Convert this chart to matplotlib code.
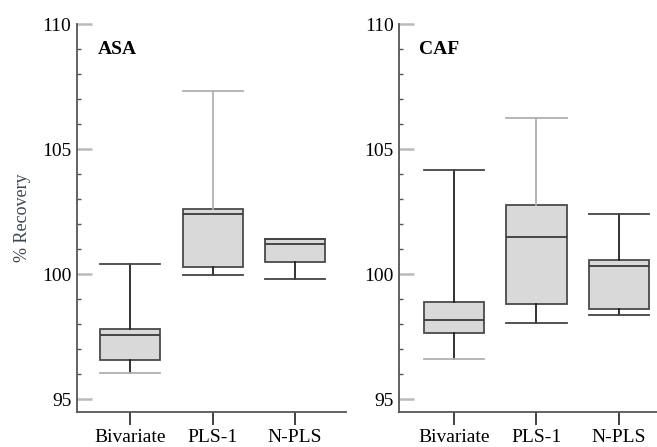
import matplotlib.pyplot as plt
from matplotlib.ticker import MultipleLocator

plt.rcParams['font.family'] = ['Liberation Serif', 'DejaVu Serif']

methods = ["Bivariate", "PLS-1", "N-PLS"]

# ASA panel
asa_whislo = [96.05, 99.99, 99.83]
asa_q1 = [96.57, 100.31, 100.49]
asa_med = [97.57, 102.41, 101.21]
asa_q3 = [97.83, 102.62, 101.40]
asa_whishi = [100.41, 107.32, 101.42]

# CAF panel
caf_whislo = [96.62, 98.07, 98.39]
caf_q1 = [97.65, 98.82, 98.60]
caf_med = [98.16, 101.49, 100.32]
caf_q3 = [98.91, 102.77, 100.59]
caf_whishi = [104.16, 106.26, 102.39]

light = "#b0b0b0"


def make_stats(lo, q1, med, q3, hi):
    return [dict(whislo=a, q1=b, med=c, q3=d, whishi=e, label=m)
            for a, b, c, d, e, m in zip(lo, q1, med, q3, hi, methods)]


fig = plt.figure(figsize=(6.57, 4.47), dpi=100)
ax1 = fig.add_axes([0.1172, 0.0783, 0.4094, 0.868])
ax2 = fig.add_axes([0.6078, 0.0783, 0.3922, 0.868])

panels = [
    (ax1, make_stats(asa_whislo, asa_q1, asa_med, asa_q3, asa_whishi), "ASA", (0.35, 3.62)),
    (ax2, make_stats(caf_whislo, caf_q1, caf_med, caf_q3, caf_whishi), "CAF", (0.34, 3.46)),
]

for ax, stats, name, xlim in panels:
    art = ax.bxp(stats, positions=[1, 2, 3], widths=0.73, patch_artist=True,
                 showfliers=False,
                 boxprops=dict(facecolor="#d9d9d9", edgecolor="#4a4a4a", linewidth=1.3),
                 medianprops=dict(color="#3a3a3a", linewidth=1.3),
                 whiskerprops=dict(color="#222222", linewidth=1.3),
                 capprops=dict(color="#444444", linewidth=1.3),
                 capwidths=0.73)
    # lighter rendered lines in the original
    art["caps"][0].set_color(light)
    art["whiskers"][3].set_color(light)
    art["caps"][3].set_color(light)

    ax.set_xlim(*xlim)
    ax.set_ylim(94.5, 110)
    ax.spines["top"].set_visible(False)
    ax.spines["right"].set_visible(False)
    ax.spines["left"].set_bounds(94.5, 110)
    for s in ("left", "bottom"):
        ax.spines[s].set_color("#555555")
        ax.spines[s].set_linewidth(1.3)

    ax.yaxis.set_major_locator(MultipleLocator(5))
    ax.yaxis.set_minor_locator(MultipleLocator(1))
    ax.tick_params(axis="y", which="major", direction="in", length=11, width=1.8,
                   color="#bbbbbb", labelsize=14, pad=4)
    ax.tick_params(axis="y", which="minor", direction="in", length=3, width=1,
                   color="#555555")
    ax.tick_params(axis="x", direction="out", length=9, width=1.3, color="#333333",
                   labelsize=14, pad=3)
    ax.xaxis.get_ticklines()[2].set_color(light)
    ax.set_facecolor("none")
    ax.text(0.078, 0.933, name, transform=ax.transAxes, fontsize=14,
            fontweight="bold", va="center", ha="left")

ax1.set_ylabel("% Recovery", fontsize=13, color="#3a4656", labelpad=8)

fig.savefig("out.png", dpi=100)
plt.close(fig)
